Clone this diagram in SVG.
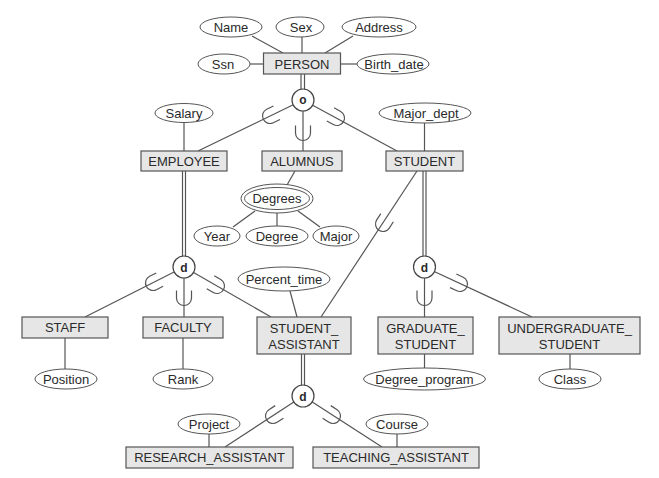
<svg xmlns="http://www.w3.org/2000/svg" width="659" height="478" viewBox="0 0 659 478">
<style>
.ent{fill:#e6e6e6;stroke:#555;stroke-width:1.2}
.att{fill:#fff;stroke:#555;stroke-width:1}
.cir{fill:#fff;stroke:#444;stroke-width:1.2}
.ln{stroke:#555;stroke-width:1.2;fill:none}
.sub{stroke:#555;stroke-width:1.2;fill:none}
text{font-family:"Liberation Sans",Arial,sans-serif;font-size:13px;fill:#2a2a2a;text-anchor:middle}
.ct{font-weight:bold;font-size:12px}
</style>
<defs>
<path id="u" d="M-7.5,-7.5 V0 A7.5,7.5 0 0 0 7.5,0 V-7.5"/>
</defs>
<rect width="659" height="478" fill="#fff"/>
<g id="connectors">
<line class="ln" x1="252" y1="36" x2="283" y2="53"/>
<line class="ln" x1="302" y1="37" x2="302" y2="53"/>
<line class="ln" x1="353" y1="36" x2="325" y2="53"/>
<line class="ln" x1="250" y1="64" x2="263.5" y2="64"/>
<line class="ln" x1="340.5" y1="64" x2="357" y2="64"/>
<line class="ln" x1="301" y1="74" x2="301" y2="90"/>
<line class="ln" x1="304.5" y1="74" x2="304.5" y2="90"/>
<line class="ln" x1="303" y1="100" x2="198" y2="151"/>
<line class="ln" x1="303" y1="100" x2="303" y2="151"/>
<line class="ln" x1="303" y1="100" x2="397" y2="151"/>
<use href="#u" class="sub" transform="translate(270,116) rotate(64)"/>
<use href="#u" class="sub" transform="translate(303,133)"/>
<use href="#u" class="sub" transform="translate(337,118) rotate(-61)"/>
<line class="ln" x1="184" y1="122" x2="184" y2="151"/>
<line class="ln" x1="424.5" y1="123" x2="424.5" y2="151"/>
<line class="ln" x1="182.5" y1="171" x2="182.5" y2="257"/>
<line class="ln" x1="185.5" y1="171" x2="185.5" y2="257"/>
<line class="ln" x1="423" y1="171" x2="423" y2="257"/>
<line class="ln" x1="426" y1="171" x2="426" y2="257"/>
<line class="ln" x1="295" y1="171" x2="287" y2="185"/>
<line class="ln" x1="255" y1="211" x2="233" y2="227"/>
<line class="ln" x1="277" y1="213" x2="277" y2="226"/>
<line class="ln" x1="298" y1="211" x2="320" y2="227"/>
<line class="ln" x1="417" y1="171" x2="321" y2="317"/>
<use href="#u" class="sub" transform="translate(383,224) rotate(33)"/>
<line class="ln" x1="184" y1="267" x2="85" y2="317"/>
<line class="ln" x1="184" y1="267" x2="184" y2="317"/>
<line class="ln" x1="184" y1="267" x2="271" y2="317"/>
<use href="#u" class="sub" transform="translate(153,283) rotate(63)"/>
<use href="#u" class="sub" transform="translate(184,298)"/>
<use href="#u" class="sub" transform="translate(217,286) rotate(-60)"/>
<line class="ln" x1="424.5" y1="267" x2="424.5" y2="317"/>
<line class="ln" x1="424.5" y1="267" x2="532" y2="317"/>
<use href="#u" class="sub" transform="translate(424.5,298)"/>
<use href="#u" class="sub" transform="translate(460,284) rotate(-65)"/>
<line class="ln" x1="290" y1="291" x2="297" y2="317"/>
<line class="ln" x1="65" y1="338" x2="65" y2="369"/>
<line class="ln" x1="183" y1="338" x2="183" y2="369"/>
<line class="ln" x1="424.5" y1="354" x2="424.5" y2="368"/>
<line class="ln" x1="570" y1="354" x2="570" y2="369"/>
<line class="ln" x1="301.5" y1="354" x2="301.5" y2="386"/>
<line class="ln" x1="304.5" y1="354" x2="304.5" y2="386"/>
<line class="ln" x1="303" y1="396" x2="225" y2="447"/>
<line class="ln" x1="303" y1="396" x2="382" y2="447"/>
<use href="#u" class="sub" transform="translate(273,416) rotate(57)"/>
<use href="#u" class="sub" transform="translate(333,416) rotate(-57)"/>
<line class="ln" x1="209" y1="434" x2="209" y2="447"/>
<line class="ln" x1="397" y1="434" x2="397" y2="447"/>
</g>
<g id="PERSON"><rect class="ent" x="263.5" y="53" width="77" height="21"/><text x="302" y="68.5">PERSON</text></g>
<g id="Name"><ellipse class="att" cx="231" cy="27" rx="31" ry="10"/><text x="231" y="31.5">Name</text></g>
<g id="Sex"><ellipse class="att" cx="300" cy="27" rx="24" ry="10"/><text x="301" y="31.5">Sex</text></g>
<g id="Address"><ellipse class="att" cx="379" cy="27" rx="37" ry="10"/><text x="379" y="31.5">Address</text></g>
<g id="Ssn"><ellipse class="att" cx="224" cy="64" rx="26" ry="10"/><text x="223" y="68.5">Ssn</text></g>
<g id="Birth_date"><ellipse class="att" cx="393" cy="64" rx="36" ry="10"/><text x="394" y="68.5">Birth_date</text></g>
<g id="o_person"><circle class="cir" cx="303" cy="100" r="11"/><text class="ct" x="303" y="104">o</text></g>
<g id="Salary"><ellipse class="att" cx="184" cy="113" rx="29" ry="9.5"/><text x="184" y="117.5">Salary</text></g>
<g id="Major_dept"><ellipse class="att" cx="425" cy="113" rx="46" ry="10"/><text x="426" y="117.5">Major_dept</text></g>
<g id="EMPLOYEE"><rect class="ent" x="141" y="151" width="86" height="20"/><text x="184" y="165.5">EMPLOYEE</text></g>
<g id="ALUMNUS"><rect class="ent" x="262" y="151" width="80" height="20"/><text x="302" y="165.5">ALUMNUS</text></g>
<g id="STUDENT"><rect class="ent" x="386" y="151" width="77" height="20"/><text x="424.5" y="165.5">STUDENT</text></g>
<g id="Degrees"><ellipse class="att" cx="277" cy="198.5" rx="36" ry="14.5"/><ellipse class="att" cx="277" cy="198.5" rx="32.5" ry="11"/><text x="277" y="203">Degrees</text></g>
<g id="Year"><ellipse class="att" cx="217" cy="236" rx="23" ry="10"/><text x="217" y="240.5">Year</text></g>
<g id="Degree"><ellipse class="att" cx="277" cy="236" rx="31" ry="10"/><text x="277" y="240.5">Degree</text></g>
<g id="Major"><ellipse class="att" cx="336" cy="236" rx="23" ry="10"/><text x="336" y="240.5">Major</text></g>
<g id="d_employee"><circle class="cir" cx="184" cy="267" r="11"/><text class="ct" x="184" y="271.5">d</text></g>
<g id="d_student"><circle class="cir" cx="424.5" cy="267" r="11"/><text class="ct" x="424.5" y="271.5">d</text></g>
<g id="Percent_time"><ellipse class="att" cx="284" cy="279" rx="46" ry="12"/><text x="284" y="283.5">Percent_time</text></g>
<g id="STAFF"><rect class="ent" x="22" y="317" width="86" height="21"/><text x="65" y="332">STAFF</text></g>
<g id="FACULTY"><rect class="ent" x="143" y="317" width="80" height="21"/><text x="183" y="332">FACULTY</text></g>
<g id="STUDENT_ASSISTANT"><rect class="ent" x="257" y="317" width="94" height="37"/><text x="304" y="333">STUDENT_</text><text x="304" y="349">ASSISTANT</text></g>
<g id="GRADUATE_STUDENT"><rect class="ent" x="378" y="317" width="95" height="37"/><text x="425.5" y="333">GRADUATE_</text><text x="425.5" y="349">STUDENT</text></g>
<g id="UNDERGRADUATE_STUDENT"><rect class="ent" x="499" y="317" width="141" height="37"/><text x="569.5" y="333">UNDERGRADUATE_</text><text x="569.5" y="349">STUDENT</text></g>
<g id="Position"><ellipse class="att" cx="66" cy="379" rx="31" ry="10"/><text x="66" y="383.5">Position</text></g>
<g id="Rank"><ellipse class="att" cx="183" cy="379" rx="30" ry="10"/><text x="183" y="383.5">Rank</text></g>
<g id="Degree_program"><ellipse class="att" cx="424.5" cy="379" rx="61" ry="11"/><text x="424.5" y="383.5">Degree_program</text></g>
<g id="Class"><ellipse class="att" cx="570" cy="379" rx="31" ry="10"/><text x="570" y="383.5">Class</text></g>
<g id="d_assistant"><circle class="cir" cx="303" cy="396" r="11"/><text class="ct" x="303" y="400.5">d</text></g>
<g id="Project"><ellipse class="att" cx="209" cy="424" rx="31" ry="10"/><text x="209" y="428.5">Project</text></g>
<g id="Course"><ellipse class="att" cx="397" cy="424" rx="31" ry="10"/><text x="397" y="428.5">Course</text></g>
<g id="RESEARCH_ASSISTANT"><rect class="ent" x="126" y="447" width="167" height="21"/><text x="209.5" y="462">RESEARCH_ASSISTANT</text></g>
<g id="TEACHING_ASSISTANT"><rect class="ent" x="313" y="447" width="166" height="21"/><text x="396" y="462">TEACHING_ASSISTANT</text></g>
</svg>
